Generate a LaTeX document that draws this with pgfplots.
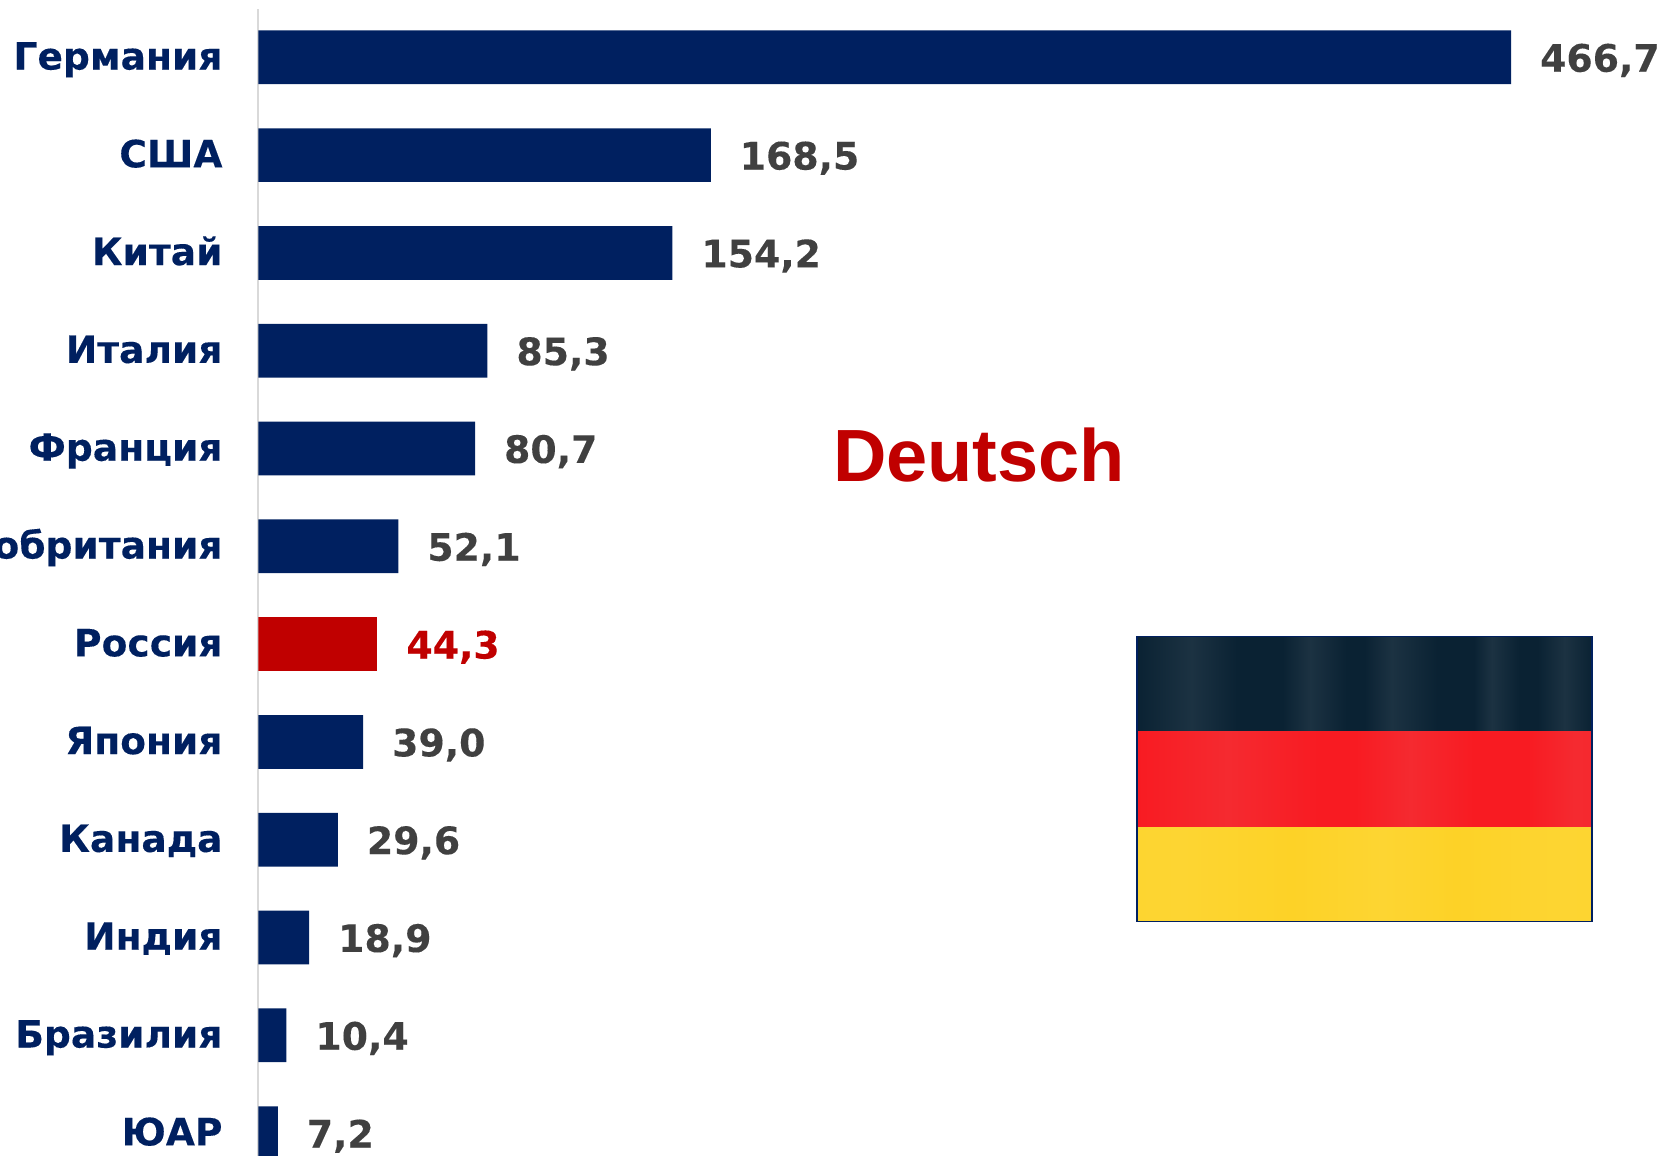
\documentclass[border=0pt]{standalone}
\usepackage{fontspec}
\setmainfont[BoldFeatures={FakeBold=0.2}]{DejaVu Sans}
\newfontfamily\headfont{Liberation Sans}
\usepackage{pgfplots}
\pgfplotsset{compat=1.18}
\definecolor{navy}{HTML}{002060}
\definecolor{darkred}{HTML}{C00000}
\definecolor{valgray}{HTML}{404040}
\definecolor{axisgray}{HTML}{D9D9D9}
\definecolor{flagblack}{HTML}{0A2233}
\definecolor{flagblacklight}{HTML}{1C3242}
\definecolor{flagred}{HTML}{F81B22}
\definecolor{flagredlight}{HTML}{F52A30}
\definecolor{flagyellow}{HTML}{FDD227}
\definecolor{flagyellowlight}{HTML}{FDD532}
% stops between 25bp and 75bp span the width of the stripe
\pgfdeclarehorizontalshading{flagtop}{100bp}{
  color(0bp)=(flagblack); color(25bp)=(flagblack); color(31bp)=(flagblacklight); color(36bp)=(flagblack);
  color(41bp)=(flagblack); color(44bp)=(flagblacklight); color(48bp)=(flagblack);
  color(50bp)=(flagblack); color(53bp)=(flagblacklight); color(58bp)=(flagblack);
  color(62bp)=(flagblack); color(64bp)=(flagblacklight); color(67bp)=(flagblack);
  color(69bp)=(flagblack); color(72bp)=(flagblacklight); color(75bp)=(flagblack); color(100bp)=(flagblack)}
\pgfdeclarehorizontalshading{flagmid}{100bp}{
  color(0bp)=(flagred); color(25bp)=(flagred); color(35bp)=(flagredlight); color(45bp)=(flagred);
  color(49bp)=(flagred); color(55bp)=(flagredlight); color(62bp)=(flagred);
  color(68bp)=(flagred); color(73bp)=(flagredlight); color(100bp)=(flagred)}
\pgfdeclarehorizontalshading{flagbot}{100bp}{
  color(0bp)=(flagyellow); color(30bp)=(flagyellowlight); color(42bp)=(flagyellow);
  color(52bp)=(flagyellowlight); color(60bp)=(flagyellow); color(72bp)=(flagyellowlight); color(100bp)=(flagyellow)}
\begin{document}
\begin{tikzpicture}[x=0.5pt,y=-0.5pt]
\path[use as bounding box] (0,0) rectangle (1671,1156);
\begin{axis}[
    at={(129.25pt,-4.5pt)},
    anchor=north west,
    scale only axis,
    width=706.25pt,
    height=573.5pt,
    xbar,
    bar width=26.85pt,
    bar shift=0pt,
    y dir=reverse,
    xmin=0, xmax=526.26,
    ymin=-0.494, ymax=11.234,
    axis x line=none,
    axis y line=left,
    axis line style={-, axisgray, line width=1pt},
    xtick=\empty,
    ytick={0,1,2,3,4,5,6,7,8,9,10,11},
    yticklabels={Германия,США,Китай,Италия,Франция,Великобритания,Россия,Япония,Канада,Индия,Бразилия,ЮАР},
    major tick length=0pt,
    yticklabel style={anchor=east, inner sep=0pt, xshift=-17.8pt, yshift=-1.1pt,
        font=\fontsize{18.8}{20}\selectfont\bfseries, text=navy,
        text height=13.4pt, text depth=3.4pt},
    nodes near coords,
    nodes near coords style={anchor=west, inner sep=0pt, xshift=14.3pt, yshift=-1.5pt,
        font=\fontsize{18.9}{21}\selectfont\bfseries,
        text height=14.2pt, text depth=2.8pt,
        /pgf/number format/assume math mode=true,
        /pgf/number format/use comma,
        /pgf/number format/fixed,
        /pgf/number format/fixed zerofill,
        /pgf/number format/precision=1},
]
\addplot[draw=none, fill=navy, nodes near coords style={text=valgray}] coordinates {
(466.7,0) (168.5,1) (154.2,2) (85.3,3) (80.7,4) (52.1,5)
(39.0,7) (29.6,8) (18.9,9) (10.4,10) (7.2,11)
};
\addplot[draw=none, fill=darkred, nodes near coords style={text=darkred}] coordinates {
(44.3,6)
};
\end{axis}
\node[anchor=center, inner sep=0pt, text=darkred, font=\headfont\fontsize{37}{40}\selectfont\bfseries] at (979,455) {Deutsch};
% flag
\shade[shading=flagtop] (1137,637) rectangle (1592,731.7);
\shade[shading=flagmid] (1137,731.7) rectangle (1592,827.3);
\shade[shading=flagbot] (1137,827.3) rectangle (1592,921.5);
\draw[navy, line width=0.8pt] (1137,636.5) rectangle (1592,921.5);
\end{tikzpicture}
\end{document}
